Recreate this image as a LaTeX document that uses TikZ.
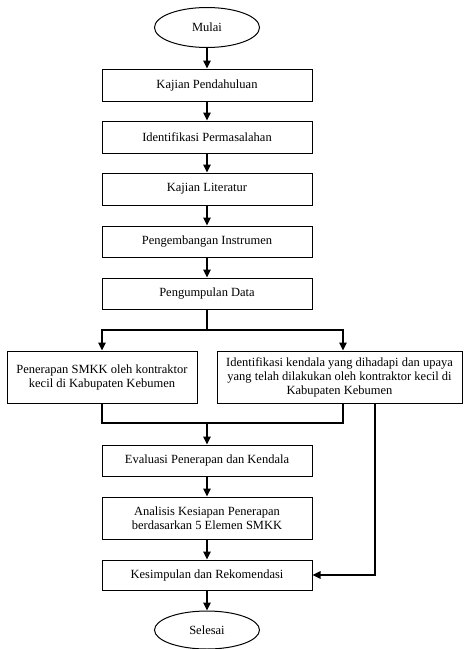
\documentclass[tikz,border=0pt]{standalone}
\usepackage{fontspec}
\setmainfont{Liberation Serif}
\usepackage{tikz}
\usetikzlibrary{arrows.meta,shapes.geometric}

\begin{document}
\begin{tikzpicture}[x=1pt,y=-1pt,
    every node/.style={font=\fontsize{12.5}{14}\selectfont},
    kotak/.style={draw,line width=1pt,minimum width=210pt,align=center,inner sep=2pt},
    oval/.style={draw,ellipse,line width=1pt,minimum width=105pt,minimum height=40pt},
    panah/.style={line width=1.1pt,-{Triangle[length=8pt,width=7.5pt]}},
    garis/.style={line width=1.1pt}]

    \useasboundingbox (0,0) rectangle (464,649);

    \node[oval] (mulai) at (207,27.5) {Mulai};
    \node[kotak,minimum height=32pt] (kajian) at (207,85) {Kajian Pendahuluan};
    \node[kotak,minimum height=32pt] (identifikasi) at (207,137) {Identifikasi Permasalahan};
    \node[kotak,minimum height=32pt] (literatur) at (207,189) {Kajian Literatur};
    \node[kotak,minimum height=31pt] (instrumen) at (207,241.5) {Pengembangan Instrumen};
    \node[kotak,minimum height=31pt] (data) at (207,293.5) {Pengumpulan Data};

    \node[kotak,minimum width=190pt,minimum height=52pt] (penerapan) at (102,377)
      {Penerapan SMKK oleh kontraktor\\kecil di Kabupaten Kebumen};
    \node[kotak,minimum width=245pt,minimum height=52pt] (kendala) at (339.5,377)
      {Identifikasi kendala yang dihadapi dan upaya\\yang telah dilakukan oleh kontraktor kecil di\\Kabupaten Kebumen};

    \node[kotak,minimum height=31pt] (evaluasi) at (207,460.5) {Evaluasi Penerapan dan Kendala};
    \node[kotak,minimum height=42pt] (analisis) at (207,518) {Analisis Kesiapan Penerapan\\berdasarkan 5 Elemen SMKK};
    \node[kotak,minimum height=30pt] (kesimpulan) at (207,575) {Kesimpulan dan Rekomendasi};
    \node[oval,minimum height=38pt] (selesai) at (207,630) {Selesai};

    \coordinate (split) at (207,330);
    \coordinate (merge) at (207,423);

    % alur utama
    \foreach \a/\b in {mulai/kajian,kajian/identifikasi,identifikasi/literatur,
      literatur/instrumen,instrumen/data,evaluasi/analisis,analisis/kesimpulan,kesimpulan/selesai}
      \draw[panah] (\a) -- (\b);

    % percabangan
    \draw[garis] (data) -- (split);
    \draw[panah] (split) -| (penerapan.north);
    \draw[panah] (split) -| ([xshift=3.5pt]kendala.north);
    \draw[garis] (penerapan.south) |- (merge) -| ([xshift=3.5pt]kendala.south);
    \draw[panah] (merge) -- (evaluasi);
    \draw[panah] ([xshift=35.5pt]kendala.south) |- (kesimpulan.east);

\end{tikzpicture}
\end{document}
